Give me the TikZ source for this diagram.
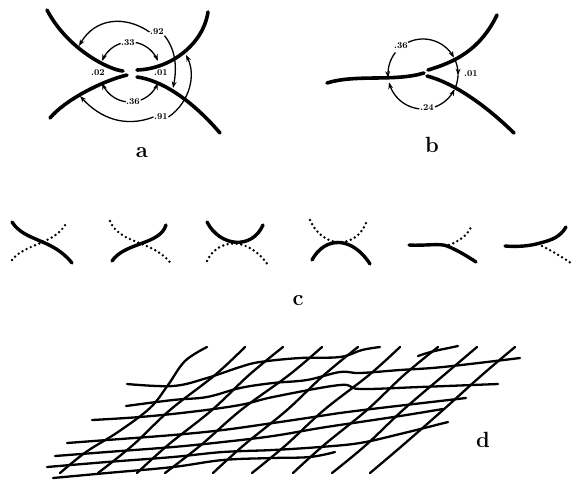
\documentclass[tikz,border=0pt]{standalone}
\usetikzlibrary{arrows.meta}
\begin{document}
\begin{tikzpicture}[x=1pt,y=-1pt,
  thickcurve/.style={line width=3.6pt, line cap=round},
  arr/.style={line width=1.3pt, -{Stealth[length=6.5pt,width=4.8pt]}},
  thinarc/.style={line width=1.3pt},
  solidc/.style={line width=3.4pt, line cap=round},
  dotc/.style={line width=2.7pt, line cap=round, dash pattern=on 0pt off 4.6pt},
  mesh/.style={line width=2.3pt, line cap=round, line join=round},
  prob/.style={font=\fontsize{9}{10}\selectfont\bfseries, inner sep=0.5pt},
  panel/.style={font=\fontsize{22}{24}\selectfont\bfseries, inner sep=0pt, anchor=base}]
\useasboundingbox (0,0) rectangle (572,480);

% ---------------- panel a ----------------
\draw[thickcurve] (47,10) .. controls (68,50) and (110,70) .. (123,71);
\draw[thickcurve] (208,12) .. controls (203,45) and (170,69) .. (137,70);
\draw[thickcurve] (50,118) .. controls (65,100) and (102,81) .. (127,75);
\draw[thickcurve] (137,77) .. controls (160,80) and (190,98) .. (220,133);

\node[prob] (p92) at (157,32) {.92};
\node[prob] (p33) at (128,43) {.33};
\node[prob] (p02) at (98,73) {.02};
\node[prob] (p01) at (161,73) {.01};
\node[prob] (p36) at (133,102) {.36};
\node[prob] (p91) at (161,117) {.91};

\draw[arr] plot[domain=108:158,samples=30] ({130+30*cos(\x)},{72-30*sin(\x)});
\draw[arr] plot[domain=79:22,samples=30] ({130+30*cos(\x)},{72-30*sin(\x)});
\draw[arr] plot[domain=262:202,samples=30] ({130+30*cos(\x)},{72-30*sin(\x)});
\draw[arr] plot[domain=291:338,samples=30] ({130+30*cos(\x)},{72-30*sin(\x)});

\coordinate (t1) at (79,46);
\coordinate (t2) at (173,88);
\coordinate (t3) at (186,55);
\coordinate (t4) at (80,96);
\draw[arr] (p92.west) .. controls (125,15) and (95,18) .. (t1);
\draw[arr] (p92.south east) .. controls (176,50) and (177,68) .. (t2);
\draw[arr] (p91.east) .. controls (190,102) and (196,75) .. (t3);
\draw[arr] (p91.west) .. controls (125,128) and (100,118) .. (t4);

\node[panel] (la) at (142,157) {a};

% ---------------- panel b ----------------
\draw[thickcurve] (327,83) .. controls (355,74) and (395,82) .. (424,73);
\draw[thickcurve] (428,70) .. controls (455,62) and (480,50) .. (497,15);
\draw[thickcurve] (427,76) .. controls (450,82) and (480,100) .. (514,133);

\node[prob] (q36) at (401,46) {.36};
\node[prob] (q01) at (471,74) {.01};
\node[prob] (q24) at (427,108) {.24};

\draw[arr] plot[domain=142:186,samples=30] ({423+35*cos(\x)},{74-35*sin(\x)});
\draw[arr] plot[domain=115:28,samples=30] ({423+35*cos(\x)},{74-35*sin(\x)});
\draw[arr] plot[domain=264:194,samples=30] ({423+35*cos(\x)},{74-35*sin(\x)});
\draw[arr] plot[domain=290:334,samples=30] ({423+35*cos(\x)},{74-35*sin(\x)});
\draw[arr] plot[domain=22:-2,samples=20] ({423+35*cos(\x)},{74-35*sin(\x)});
\draw[thinarc] plot[domain=-2:-22,samples=20] ({423+35*cos(\x)},{74-35*sin(\x)});

\node[panel] (lb) at (432,152) {b};

% ---------------- panel c ----------------
% 1
\draw[dotc] (12,260) .. controls (25,243) and (55,245) .. (67,222);
\draw[solidc] (12,222) .. controls (25,242) and (52,238) .. (72,263);
% 2
\draw[dotc] (110,221) .. controls (120,245) and (155,240) .. (172,265);
\draw[solidc] (112,261) .. controls (125,242) and (160,245) .. (166,225);
% 3
\draw[dotc] (207,261) .. controls (218,238) and (248,236) .. (268,265);
\draw[solidc] (207,222) .. controls (220,247) and (252,250) .. (263,225);
% 4
\draw[dotc] (310,220) .. controls (322,248) and (355,250) .. (366,223);
\draw[solidc] (312,260) .. controls (325,236) and (352,236) .. (370,264);
% 5
\draw[dotc] (449,245) .. controls (459,241) and (467,236) .. (471,227);
\draw[solidc] (409,245) .. controls (425,246) and (440,243) .. (447,246) .. controls (457,250) and (467,256) .. (476,262);
% 6
\draw[dotc] (542,246) .. controls (552,251) and (562,257) .. (571,263);
\draw[solidc] (505,246) .. controls (518,247) and (530,246) .. (540,243) .. controls (552,240) and (560,237) .. (566,227);

\node[panel] (lc) at (298,305) {c};

% ---------------- panel d ----------------
% near-horizontal threads
\draw[mesh] plot[smooth,tension=0.6] coordinates {(127,384) (173,386) (207,378) (240,367) (260,362) (300,358) (340,357) (362,350) (380,347)};
\draw[mesh] plot[smooth,tension=0.6] coordinates {(126,406) (173,400) (207,397) (240,388) (273,383) (307,380) (340,372) (360,373) (400,370) (443,367) (520,358)};
\draw[mesh] plot[smooth,tension=0.6] coordinates {(92,420) (140,417) (190,412) (240,405) (273,397) (340,385) (360,389) (420,387) (498,384)};
\draw[mesh] plot[smooth,tension=0.6] coordinates {(67,443) (107,440) (173,435) (223,430) (273,423) (307,418) (340,413) (380,408) (466,398)};
\draw[mesh] plot[smooth,tension=0.6] coordinates {(55,456) (107,452) (173,447) (223,442) (273,436) (320,428) (360,422) (400,416) (443,409)};
\draw[mesh] plot[smooth,tension=0.6] coordinates {(47,467) (107,462) (173,457) (223,452) (273,450) (320,447) (360,443) (400,434) (448,422)};
\draw[mesh] plot[smooth,tension=0.6] coordinates {(53,478) (107,473) (173,467) (223,460) (273,458) (310,457) (335,452)};
\draw[mesh] (418,356) .. controls (435,350) and (445,349) .. (458,346);
% oblique threads
\draw[mesh] plot[smooth,tension=0.6] coordinates {(207,347) (185,361) (168,385) (150,408) (118,432) (86,452) (60,473)};
\draw[mesh] plot[smooth,tension=0.6] coordinates {(245,347) (215,375) (170,410) (133,445) (98,473)};
\draw[mesh] plot[smooth,tension=0.6] coordinates {(283,347) (249,375) (212,410) (168,445) (137,473)};
\draw[mesh] plot[smooth,tension=0.6] coordinates {(322,347) (289,375) (241,410) (201,445) (165,473)};
\draw[mesh] plot[smooth,tension=0.6] coordinates {(358,347) (324,375) (287,410) (244,445) (213,473)};
\draw[mesh] plot[smooth,tension=0.6] coordinates {(400,347) (369,375) (324,410) (286,445) (252,473)};
\draw[mesh] plot[smooth,tension=0.6] coordinates {(438,347) (404,375) (367,410) (324,445) (293,473)};
\draw[mesh] plot[smooth,tension=0.6] coordinates {(477,347) (444,375) (403,410) (366,445) (332,473)};
\draw[mesh] plot[smooth,tension=0.6] coordinates {(515,347) (482,375) (443,410) (403,445) (370,473)};

\node[panel] (ld) at (483,447) {d};
\end{tikzpicture}
\end{document}
